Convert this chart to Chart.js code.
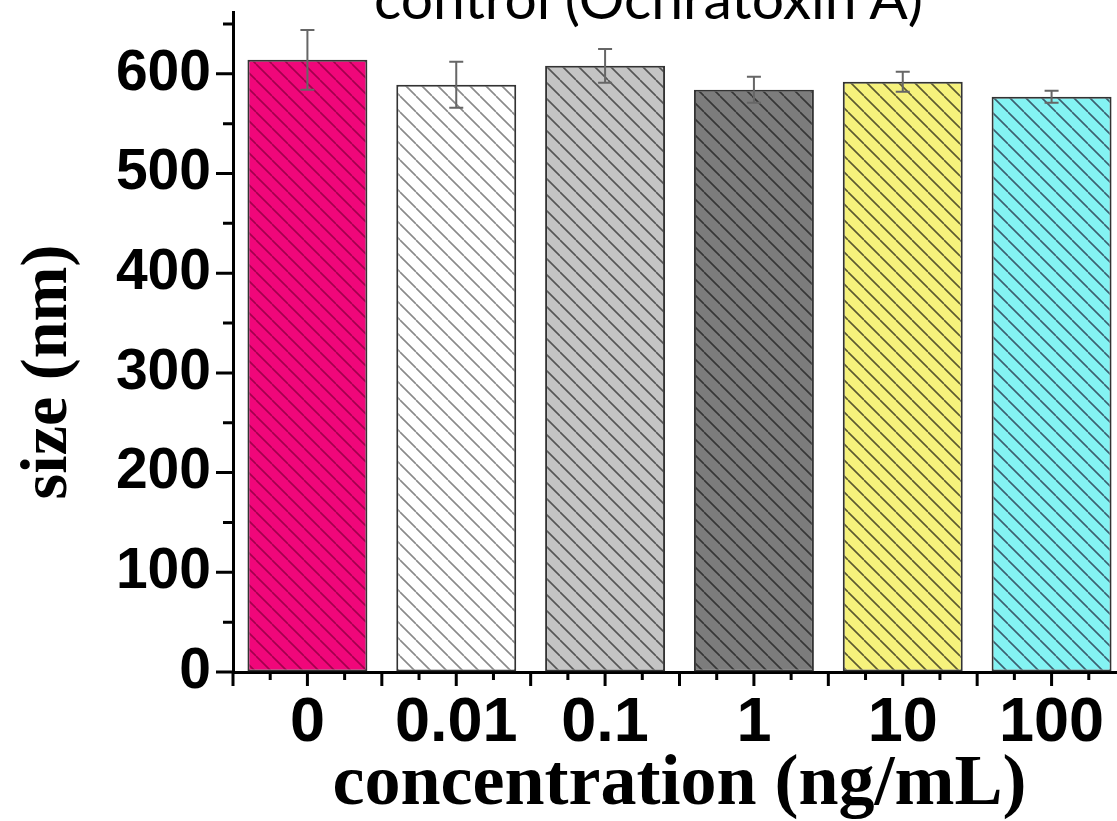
<!DOCTYPE html>
<html>
<head>
<meta charset="utf-8">
<script src="https://cdn.jsdelivr.net/npm/chart.js@4.4.0/dist/chart.umd.min.js"></script>
<style>
  html, body { margin: 0; padding: 0; background: #fff; overflow: hidden; width: 1117px; height: 821px; }
  #wrap { position: relative; width: 1117px; height: 821px; overflow: hidden; }
  #title { position: absolute; left: 374px; top: -31px; z-index: 2; font: 57px Lato, sans-serif; line-height: 1; white-space: nowrap; color: #000; }
  canvas { position: absolute; left: 0; top: 0; }
</style>
</head>
<body>
<div id="wrap">
  <div id="title">control (Ochratoxin A)</div>
  <canvas id="sizeChart" width="1126" height="821"></canvas>
</div>
<script>
// data
const categories = ['0', '0.01', '0.1', '1', '10', '100'];
const sizes = [614, 589, 608, 584, 592, 577];
const errors = [30, 23, 17, 13, 10, 6];
const barColors = ['#f0077a', '#ffffff', '#c4c4c4', '#7c7c7c', '#f6f27c', '#84f3f3'];
const hatchColors = ['#a3004d', '#8a8a8a', '#555555', '#363636', '#5c5a30', '#3c6070'];
const yTitle = 'size (nm)';
const xTitle = 'concentration (ng/mL)';

// diagonal "\" hatch
function hatch(bg, line) {
  const s = 16;
  const c = document.createElement('canvas');
  c.width = s; c.height = s;
  const g = c.getContext('2d');
  g.fillStyle = bg;
  g.fillRect(0, 0, s, s);
  g.strokeStyle = line;
  g.lineWidth = 1.6;
  g.beginPath();
  for (const k of [-1, 0, 1]) {
    g.moveTo(k * s, 0);
    g.lineTo(k * s + s, s);
  }
  g.stroke();
  return g.createPattern(c, 'repeat');
}

const errorBars = {
  id: 'errorBars',
  afterDatasetsDraw(chart) {
    const ctx = chart.ctx;
    const y = chart.scales.y;
    const meta = chart.getDatasetMeta(0);
    ctx.save();
    ctx.strokeStyle = '#666';
    ctx.lineWidth = 2;
    meta.data.forEach((bar, i) => {
      const top = y.getPixelForValue(sizes[i] + errors[i]);
      const bot = y.getPixelForValue(sizes[i] - errors[i]);
      ctx.beginPath();
      ctx.moveTo(bar.x, top); ctx.lineTo(bar.x, bot);
      ctx.moveTo(bar.x - 7, top); ctx.lineTo(bar.x + 7, top);
      ctx.moveTo(bar.x - 7, bot); ctx.lineTo(bar.x + 7, bot);
      ctx.stroke();
    });
    ctx.restore();
  }
};

// major + minor tick marks, outward; y title sits a bit below axis centre
const axisDecor = {
  id: 'axisDecor',
  afterDraw(chart) {
    const ctx = chart.ctx;
    const {x, y} = chart.scales;
    const area = chart.chartArea;
    ctx.save();
    ctx.strokeStyle = '#000';
    ctx.lineWidth = 3;
    ctx.beginPath();
    for (let v = 0; v <= 650; v += 50) {
      const py = y.getPixelForValue(v);
      const len = v % 100 === 0 ? 17 : 10;
      ctx.moveTo(area.left - len, py);
      ctx.lineTo(area.left, py);
    }
    for (let k = -2; k <= 22; k++) {
      const px = x.getPixelForValue(k / 4);
      const len = k % 2 === 0 ? 14 : 8;
      ctx.moveTo(px, area.bottom);
      ctx.lineTo(px, area.bottom + len);
    }
    ctx.stroke();

    ctx.translate(49, (area.top + area.bottom) / 2 + 30);
    ctx.rotate(-Math.PI / 2);
    ctx.fillStyle = '#000';
    ctx.font = 'bold 66px "Liberation Serif", "Times New Roman", serif';
    ctx.textAlign = 'center';
    ctx.textBaseline = 'middle';
    ctx.fillText(yTitle, 0, 0);
    ctx.restore();
  }
};

new Chart(document.getElementById('sizeChart'), {
  type: 'bar',
  data: {
    labels: categories,
    datasets: [{
      data: sizes,
      backgroundColor: barColors.map((c, i) => hatch(c, hatchColors[i])),
      borderColor: '#333',
      borderWidth: 2,
      borderSkipped: false,
      barPercentage: 0.806,
      categoryPercentage: 1
    }]
  },
  options: {
    responsive: false,
    animation: false,
    devicePixelRatio: 1,
    layout: { padding: { top: 12, right: 0, bottom: 0, left: 0 } },
    plugins: {
      legend: { display: false },
      tooltip: { enabled: false }
    },
    scales: {
      x: {
        offset: true,
        grid: { display: true, drawOnChartArea: false, drawTicks: false },
        border: { display: true, color: '#000', width: 3 },
        ticks: {
          autoSkip: false,
          maxRotation: 0,
          padding: 20,
          color: '#000',
          font: { family: '"Liberation Sans", Arial, sans-serif', size: 63, weight: 'bold', lineHeight: 1 }
        },
        title: {
          display: true,
          text: xTitle,
          color: '#000',
          padding: { top: 13, bottom: 0 },
          font: { family: '"Liberation Serif", "Times New Roman", serif', size: 72, weight: 'bold', lineHeight: 1 }
        },
        afterFit(scale) {
          scale.height = 149;
          scale.paddingLeft = 0;
          scale.paddingRight = 0;
        }
      },
      y: {
        min: 0,
        max: 662,
        grid: { display: true, drawOnChartArea: false, drawTicks: false },
        border: { display: true, color: '#000', width: 3 },
        ticks: {
          stepSize: 100,
          includeBounds: false,
          padding: 22,
          color: '#000',
          font: { family: '"Liberation Sans", Arial, sans-serif', size: 57, weight: 'bold', lineHeight: 1 }
        },
        afterFit(scale) {
          scale.width = 233;
          scale.paddingTop = 0;
          scale.paddingBottom = 0;
        }
      }
    }
  },
  plugins: [errorBars, axisDecor]
});
</script>
</body>
</html>
